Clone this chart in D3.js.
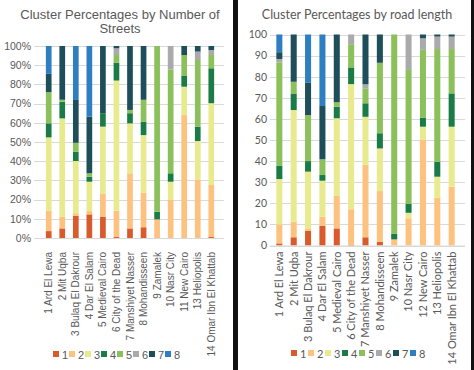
<!DOCTYPE html>
<html>
<head>
<meta charset="utf-8">
<script src="https://cdn.jsdelivr.net/npm/d3@7"></script>
<style>
  body { margin: 0; background: #fff; }
  svg { display: block; }
</style>
</head>
<body>
<script>
// cluster keys and colours
const clusters = ["1", "2", "3", "4", "5", "6", "7", "8"];
const colors = ["#d95a2b", "#fdc27f", "#e8ea8e", "#1b7b47", "#8bc05b", "#aaaaaa", "#1d4e59", "#2e7ec2"];

// left panel: by number of streets
const streetCats = ["1 Ard El Lewa", "2 Mit Uqba", "3 Bulaq El Dakrour", "4 Dar El Salam", "5 Medieval Cairo",
  "6 City of the Dead", "7 Manshiyet Nasser", "8 Mohandisseen", "9 Zamalek", "10 Nasr City",
  "11 New Cairo", "13 Heliopolis", "14 Omar Ibn El Khattab"];
const streets1 = [3.6, 5, 11.5, 12.3, 11.1, 0.5, 5, 5.6, 0, 0, 0, 0, 0.5];
const streets2 = [10.6, 6, 1.4, 1.7, 11.8, 13.7, 28.7, 18, 9.7, 19.8, 64, 30.2, 27.1];
const streets3 = [38.2, 51.3, 27.2, 15.3, 35.1, 67.8, 26, 30, 0, 9.5, 14.8, 20.3, 42.6];
const streets4 = [7.3, 8.7, 4.9, 2.6, 7, 9.3, 5.3, 7, 4, 4.4, 5.6, 7.5, 18.2];
const streets5 = [16.3, 1, 4.6, 1.8, 0, 4, 1.7, 11.4, 86.3, 54, 10.9, 34.7, 6.9];
const streets6 = [0, 0, 0, 0, 0, 3.5, 0, 0, 0, 12.3, 0, 4.4, 2.6];
const streets7 = [9.5, 28, 22.3, 29.5, 35, 1.2, 33.3, 28, 0, 0, 4.7, 2.9, 2.1];
const streets8 = [14.5, 0, 28.1, 36.8, 0, 0, 0, 0, 0, 0, 0, 0, 0];

// right panel: by road length
const roadCats = ["1 Ard El Lewa", "2 Mit Uqba", "3 Bulaq El Dakrour", "4 Dar El Salam", "5 Medieval Cairo",
  "6 City of the Dead", "7 Manshiyet Nasser", "8 Mohandisseen", "9 Zamalek", "10 Nasr City",
  "12 New Cairo", "13 Heliopolis", "14 Omar Ibn El Khattab"];
const road1 = [1, 3.9, 6.9, 9.4, 8.1, 0.3, 3.9, 1.8, 0, 0, 0, 0, 0];
const road2 = [9, 7.4, 1.2, 4.2, 15.4, 16.9, 34.3, 24, 2.9, 12.9, 50, 22.7, 27.9];
const road3 = [21.5, 52.9, 26.9, 17.1, 36.8, 59.3, 22.8, 20.2, 0, 2.6, 6.3, 9.9, 28.4];
const road4 = [6.2, 7.6, 5, 2.7, 5.5, 7.9, 6.4, 7.2, 2.6, 4.2, 4.3, 7.1, 15.8];
const road5 = [49.1, 5.8, 21.8, 7.5, 2.1, 11, 7.1, 33.4, 94.5, 63.5, 32.1, 53.4, 21];
const road6 = [1.6, 0, 0, 0, 0, 4.6, 1.9, 0, 0, 16.8, 5.5, 5.9, 5.9];
const road7 = [3.2, 22.4, 15.5, 25.2, 32.1, 0, 23.6, 13.4, 0, 0, 1.8, 1, 1];
const road8 = [8.4, 0, 22.7, 33.9, 0, 0, 0, 0, 0, 0, 0, 0, 0];

const yTicks = [0, 10, 20, 30, 40, 50, 60, 70, 80, 90, 100];

const W = 474, H = 370;
const svg = d3.select("body").append("svg").attr("width", W).attr("height", H);

function rows(cats, series) {
  return cats.map((c, i) => {
    const r = { cat: c };
    clusters.forEach((k, j) => r[k] = series[j][i]);
    return r;
  });
}

function drawPanel(opt) {
  const data = rows(opt.cats, opt.series);
  const stacked = d3.stack().keys(clusters)(data);

  const x = d3.scaleBand().domain(opt.cats).range([opt.x0, opt.x1]).padding(0.58);
  const y = d3.scaleLinear().domain([0, 100]).range([opt.y0, opt.y1]);
  const color = d3.scaleOrdinal().domain(clusters).range(colors);

  const g = svg.append("g");

  // gridlines
  g.selectAll(".grid").data(yTicks).enter().append("line")
    .attr("x1", opt.gx0).attr("x2", opt.gx1)
    .attr("y1", d => Math.round(y(d)) + 0.5).attr("y2", d => Math.round(y(d)) + 0.5)
    .attr("stroke", "#d9d9d9").attr("stroke-width", 1);

  // bars
  g.selectAll(".layer").data(stacked).enter().append("g")
    .attr("fill", d => color(d.key))
    .selectAll("rect").data(d => d).enter().append("rect")
    .attr("x", d => x(d.data.cat))
    .attr("width", x.bandwidth())
    .attr("y", d => y(d[1]))
    .attr("height", d => y(d[0]) - y(d[1]));

  // y axis labels
  const yAxis = d3.axisLeft(y).tickValues(yTicks).tickSize(0).tickPadding(0).tickFormat(opt.fmt);
  const ya = g.append("g").attr("transform", "translate(" + opt.labelX + ",0)").call(yAxis);
  ya.select(".domain").remove();
  ya.selectAll("text").attr("fill", "#595959").style("font-family", opt.font).style("font-size", opt.fs + "px");

  // x axis labels (rotated)
  const xAxis = d3.axisBottom(x).tickSize(0).tickPadding(0);
  const xa = g.append("g").attr("transform", "translate(0," + opt.y0 + ")").call(xAxis);
  xa.select(".domain").attr("stroke", "#d9d9d9").attr("d", "M" + opt.gx0 + ",0.5H" + opt.gx1);
  xa.selectAll("text")
    .attr("fill", "#595959")
    .style("font-family", opt.font).style("font-size", opt.xfs + "px")
    .attr("text-anchor", "end")
    .attr("transform", "rotate(-90)")
    .attr("x", -opt.xlabGap).attr("y", 0).attr("dy", "0.35em");

  // title
  const t = g.append("text").attr("x", opt.tx).attr("text-anchor", "middle")
    .attr("fill", "#595959").style("font-family", opt.font).style("font-size", opt.tfs + "px");
  opt.title.forEach((line, i) => {
    t.append("tspan").attr("x", opt.tx).attr("y", opt.ty + i * opt.tlh).text(line);
  });

  // legend
  const lg = g.append("g").attr("transform", "translate(" + opt.lx + "," + opt.ly + ")");
  const item = lg.selectAll("g").data(clusters).enter().append("g")
    .attr("transform", (d, i) => "translate(" + i * opt.lstep + ",0)");
  item.append("rect").attr("x", 0).attr("y", -4).attr("width", 6).attr("height", 6)
    .attr("fill", d => color(d));
  item.append("text").attr("x", 9).attr("y", 0).attr("dy", "0.35em")
    .attr("fill", "#595959").style("font-family", opt.font).style("font-size", opt.lfs + "px")
    .text(d => d);
}

drawPanel({
  cats: streetCats,
  series: [streets1, streets2, streets3, streets4, streets5, streets6, streets7, streets8],
  x0: 38, x1: 222, y0: 238, y1: 46, gx0: 34, gx1: 224,
  labelX: 31, fmt: d => d + "%", font: "'Liberation Sans', Arial, sans-serif", fs: 10.5, xfs: 10,
  xlabGap: 14,
  title: ["Cluster Percentages by Number of", "Streets"], tx: 120, ty: 19, tlh: 14, tfs: 13,
  lx: 53, ly: 355, lstep: 16, lfs: 11
});

drawPanel({
  cats: roadCats,
  series: [road1, road2, road3, road4, road5, road6, road7, road8],
  x0: 268, x1: 463, y0: 245.5, y1: 34.5, gx0: 270, gx1: 465,
  labelX: 267, fmt: d => d, font: "Lato, Carlito, sans-serif", fs: 10.5, xfs: 11,
  xlabGap: 6,
  title: ["Cluster Percentages by road length"], tx: 357, ty: 19, tlh: 14, tfs: 12.5,
  lx: 291, ly: 354, lstep: 17, lfs: 11
});

// panel divider and right frame
svg.append("rect").attr("x", 233).attr("y", 0).attr("width", 5).attr("height", H).attr("fill", "#111");
svg.append("rect").attr("x", 471).attr("y", 0).attr("width", 3).attr("height", H).attr("fill", "#111");
</script>
</body>
</html>
